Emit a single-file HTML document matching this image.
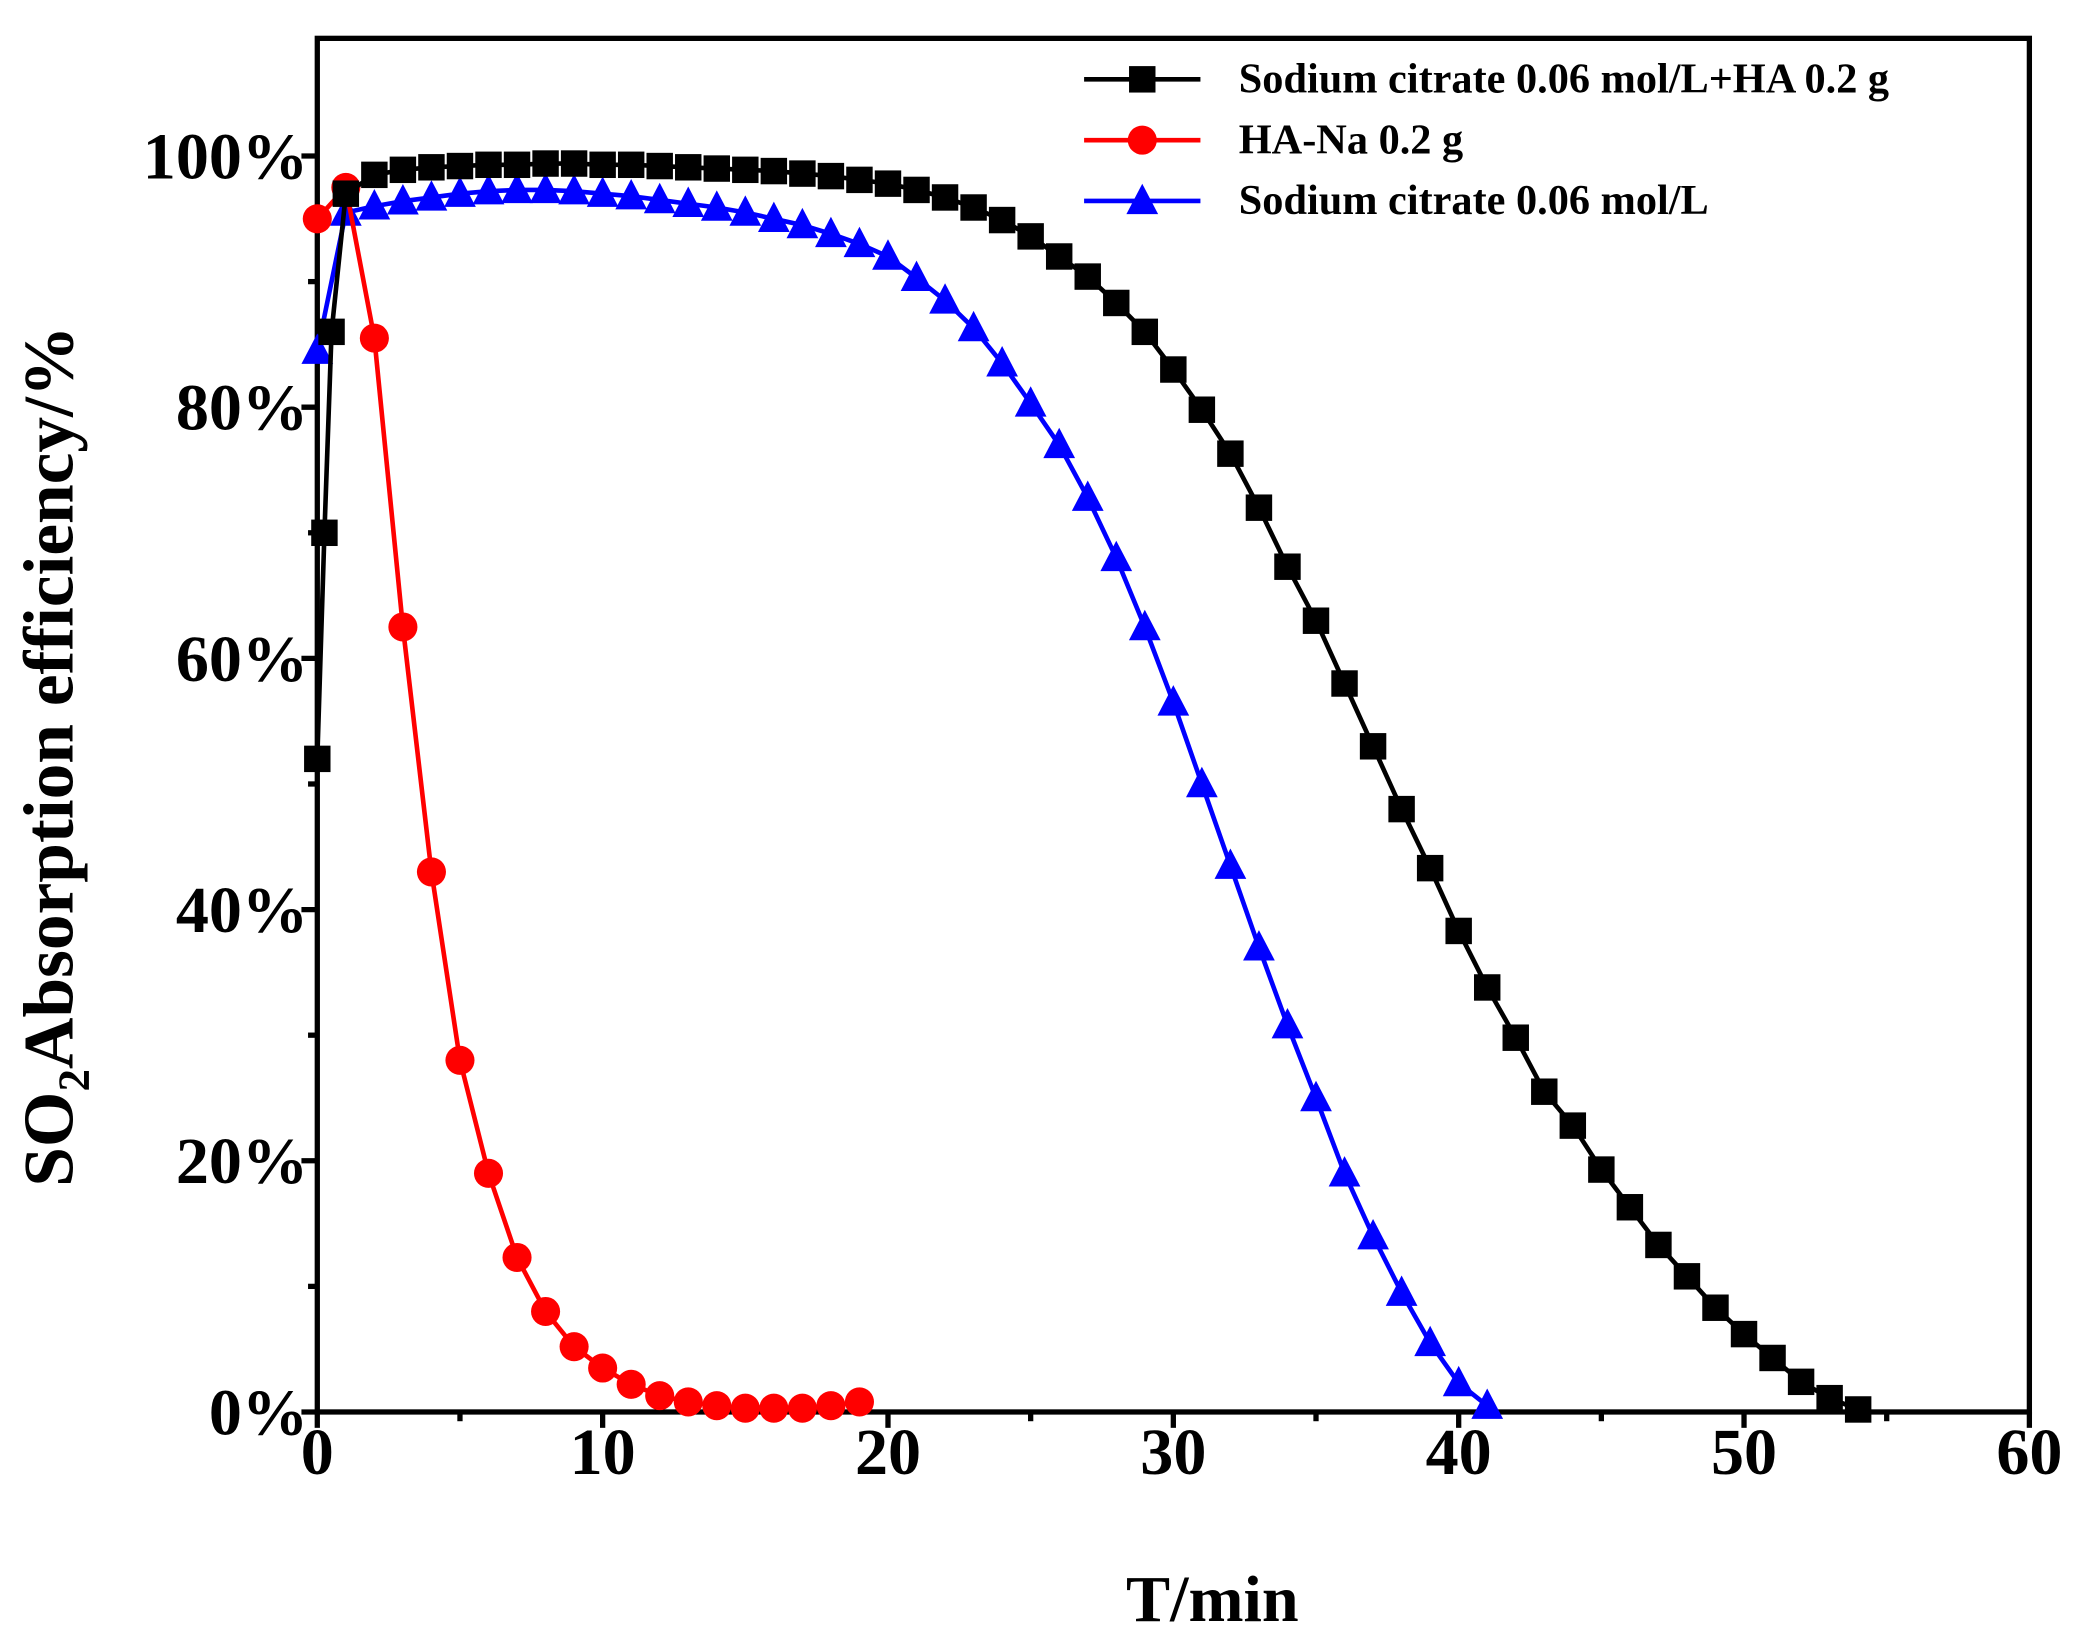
<!DOCTYPE html>
<html><head><meta charset="utf-8"><style>html,body{margin:0;padding:0;background:#fff}svg{display:block}text{font-family:"Liberation Serif",serif;font-weight:bold}</style></head>
<body>
<svg id="s" width="2073" height="1644" viewBox="0 0 1568 1243.5" xmlns="http://www.w3.org/2000/svg">
<rect width="1568" height="1244" fill="#fff"/>
<g id="axes" stroke="#000" stroke-width="4" fill="none">
<rect x="240" y="29" width="1295" height="1039"/>
</g>
<g id="ticks" stroke="#000" stroke-width="4"></g>
<g id="labels" font-size="50" fill="#000"></g>
<g id="data"></g>
<text x="917" y="1226" font-size="50" text-anchor="middle">T/min</text>
<text transform="translate(55,572) rotate(-90)" font-size="54" text-anchor="middle">SO<tspan font-size="34" dy="12">2</tspan><tspan dy="-12">Absorption efficiency/%</tspan></text>
<g id="legend" font-size="32"></g>
</svg>
<script>
const NS="http://www.w3.org/2000/svg";
const X=t=>240+t*(1535-240)/60, Y=v=>1068-v*9.5;
function el(p,n,a,txt){const e=document.createElementNS(NS,n);for(const k in a)e.setAttribute(k,a[k]);if(txt!==undefined)e.textContent=txt;p.appendChild(e);return e;}
const tk=document.getElementById('ticks'),lb=document.getElementById('labels');
for(let t=0;t<=60;t+=5){const maj=t%10==0;el(tk,'line',{x1:X(t),x2:X(t),y1:1068,y2:1068+(maj?12:7)});if(maj)el(lb,'text',{x:X(t),y:1115,'text-anchor':'middle'},t);}
for(let v=0;v<=100;v+=10){const maj=v%20==0;el(tk,'line',{x1:240,x2:240-(maj?12:7),y1:Y(v),y2:Y(v)});if(maj)el(lb,'text',{x:233,y:Y(v)+17,'text-anchor':'end'},v+'%');}
const black=[[0,52],[0.25,70],[0.5,86],[1,97],[2,98.5],[3,98.9],[4,99.1],[5,99.2],[6,99.3],[7,99.3],[8,99.4],[9,99.4],[10,99.3],[11,99.3],[12,99.2],[13,99.1],[14,99],[15,98.9],[16,98.8],[17,98.6],[18,98.4],[19,98.1],[20,97.8],[21,97.3],[22,96.7],[23,95.9],[24,94.9],[25,93.6],[26,92],[27,90.4],[28,88.3],[29,86],[30,83],[31,79.8],[32,76.3],[33,72],[34,67.3],[35,63],[36,58],[37,53],[38,48],[39,43.3],[40,38.3],[41,33.8],[42,29.8],[43,25.5],[44,22.8],[45,19.3],[46,16.3],[47,13.3],[48,10.8],[49,8.3],[50,6.2],[51,4.3],[52,2.4],[53,1.1],[54,0.2]];
const red=[[0,95],[1,97.5],[2,85.5],[3,62.5],[4,43],[5,28],[6,19],[7,12.3],[8,8],[9,5.2],[10,3.5],[11,2.2],[12,1.3],[13,0.8],[14,0.5],[15,0.3],[16,0.3],[17,0.3],[18,0.5],[19,0.8]];
const blue=[[0,84.5],[1,95.5],[2,96],[3,96.4],[4,96.7],[5,97],[6,97.2],[7,97.3],[8,97.3],[9,97.2],[10,97],[11,96.8],[12,96.5],[13,96.2],[14,95.9],[15,95.5],[16,95],[17,94.5],[18,93.8],[19,93],[20,92],[21,90.3],[22,88.5],[23,86.3],[24,83.5],[25,80.3],[26,77],[27,72.8],[28,68],[29,62.5],[30,56.5],[31,50],[32,43.5],[33,37],[34,30.8],[35,25],[36,19],[37,14],[38,9.5],[39,5.5],[40,2.3],[41,0.5]];
const d=document.getElementById('data');
function mk(g,type,x,y,c){if(type=='sq')el(g,'rect',{x:x-10,y:y-10,width:20,height:20,fill:c});else if(type=='ci')el(g,'circle',{cx:x,cy:y,r:11,fill:c});else el(g,'polygon',{points:`${x},${y-13} ${x-12},${y+10} ${x+12},${y+10}`,fill:c});}
function series(data,c,type){const g=el(d,'g',{});el(g,'polyline',{points:data.map(p=>X(p[0])+','+Y(p[1])).join(' '),fill:'none',stroke:c,'stroke-width':3.5});data.forEach(p=>mk(g,type,X(p[0]),Y(p[1]),c));}
series(blue,'#0000ff','tr');series(red,'#ff0000','ci');series(black,'#000','sq');
const lg=document.getElementById('legend');
[['#000','sq','Sodium citrate 0.06 mol/L+HA 0.2 g',60],['#ff0000','ci','HA-Na 0.2 g',106],['#0000ff','tr','Sodium citrate 0.06 mol/L',152]].forEach(a=>{el(lg,'line',{x1:820,x2:908,y1:a[3],y2:a[3],stroke:a[0],'stroke-width':3.5});mk(lg,a[1],864,a[3],a[0]);el(lg,'text',{x:937,y:a[3]+10,fill:'#000'},a[2]);});
</script>
</body></html>
